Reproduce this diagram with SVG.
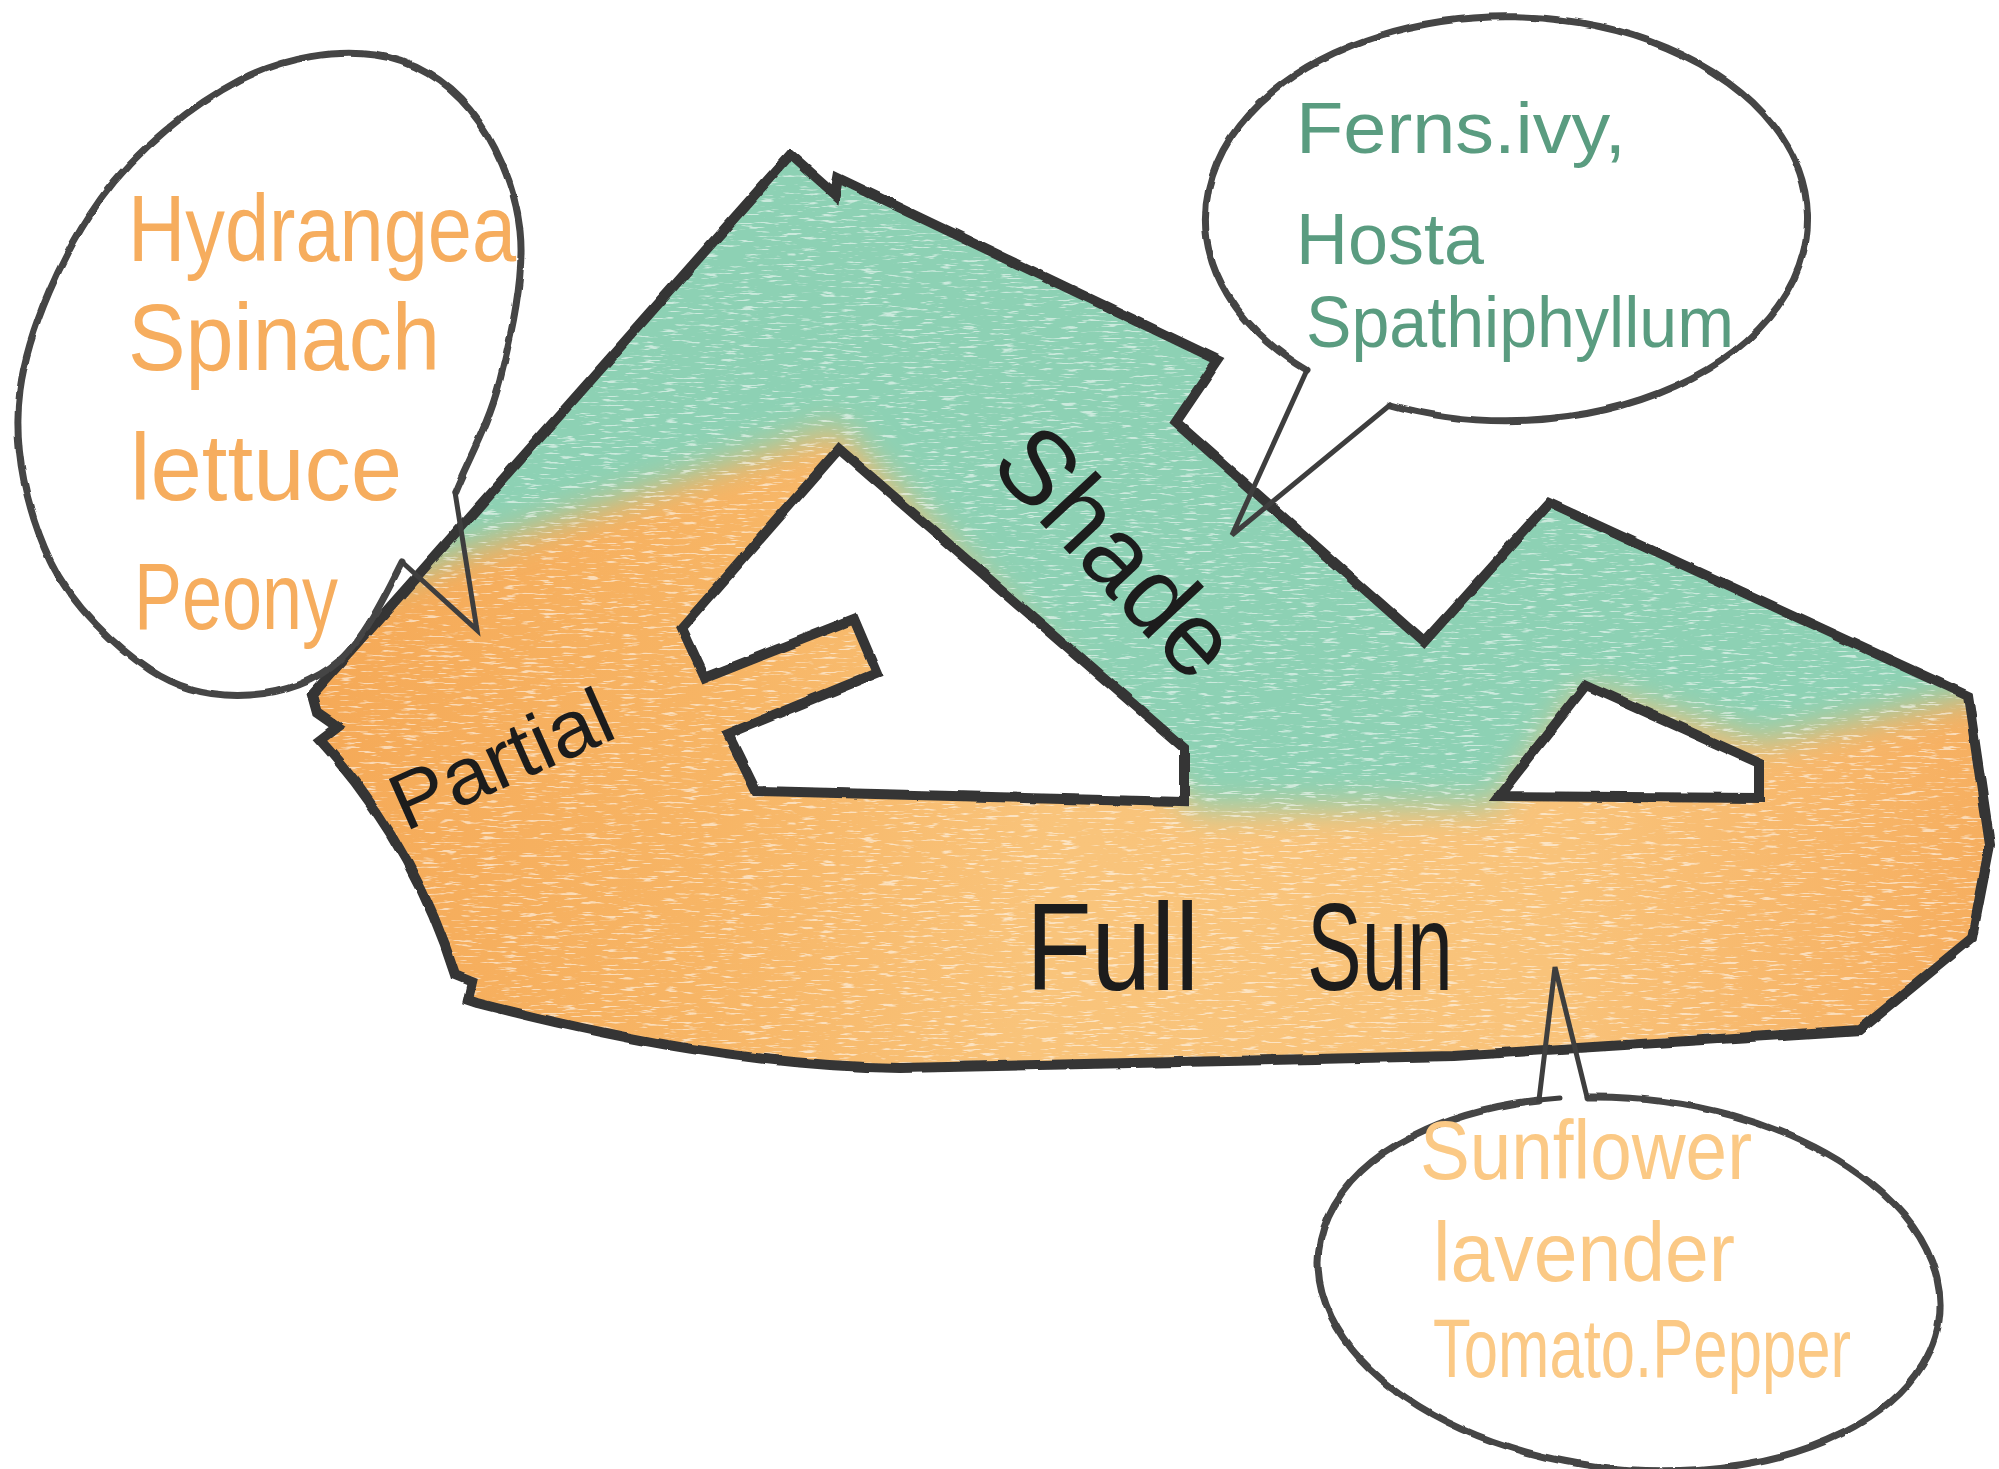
<svg xmlns="http://www.w3.org/2000/svg" width="1999" height="1469" viewBox="0 0 1999 1469">
  <defs>
    <style>
      .outline { fill: none; stroke: #343434; stroke-width: 10; stroke-linejoin: miter; stroke-miterlimit: 6; }
      .bubble { fill: none; stroke: #444444; stroke-width: 7; stroke-linecap: round; }
      .tail { fill: none; stroke: #3e3e3e; stroke-width: 5; stroke-linejoin: miter; stroke-linecap: round; }
      .hand { font-family: "Liberation Sans", "Noto Sans", sans-serif; }
      .t-orange { fill: #F6AD5E; font-size: 95px; }
      .t-green { fill: #5A9C80; font-size: 72px; }
      .t-light { fill: #FBC985; font-size: 84px; }
      .t-black { fill: #1c1c1c; }
    </style>
    <linearGradient id="sunGrad" gradientUnits="userSpaceOnUse" x1="300" y1="700" x2="1990" y2="900">
      <stop offset="0" stop-color="#F5A957"/>
      <stop offset="0.25" stop-color="#F7B565"/>
      <stop offset="0.45" stop-color="#F9C47B"/>
      <stop offset="0.75" stop-color="#F9C37A"/>
      <stop offset="1" stop-color="#F6AE5F"/>
    </linearGradient>
    <clipPath id="shapeClip">
      <path clip-rule="evenodd" d="M790,155 L835,195 L838,178 L1218,360 L1176,422 L1424,642 L1549,503 L1968,696 L1990,845 L1972,938 L1860,1030 L1453,1056 L900,1068 C760,1066 620,1040 477,1003 L468,1000 L472,982 L455,975 Q414,844 320,740 L337,727 L317,713 L312,695 Z M839,449 L682,628 L705,678 L854,619 L877,673 L728,734 L756,791 L1184,802 L1184,748 Z M1586,685 L1759,763 L1759,798 L1499,796 Z"/>
    </clipPath>
    <filter id="soft" x="-20%" y="-20%" width="140%" height="140%">
      <feGaussianBlur stdDeviation="16"/>
    </filter>
    <filter id="speckle" filterUnits="userSpaceOnUse" x="250" y="100" width="1760" height="1000">
      <feTurbulence type="fractalNoise" baseFrequency="0.05 0.45" numOctaves="3" seed="7" result="n"/>
      <feColorMatrix in="n" type="matrix" values="0 0 0 0 1  0 0 0 0 1  0 0 0 0 1  7 0 0 0 -4.1"/>
    </filter>
    <filter id="rough" x="-5%" y="-5%" width="110%" height="110%">
      <feTurbulence type="fractalNoise" baseFrequency="0.04" numOctaves="2" seed="3" result="t"/>
      <feDisplacementMap in="SourceGraphic" in2="t" scale="4" xChannelSelector="R" yChannelSelector="G"/>
    </filter>
  </defs>

  <rect width="1999" height="1469" fill="#ffffff"/>

  <!-- main garden shape -->
  <g id="garden-shape">
    <g clip-path="url(#shapeClip)">
      <rect x="250" y="100" width="1760" height="1000" fill="url(#sunGrad)"/>
      <polygon points="250,640 470,550 838,428 1195,810 1495,806 1585,690 1760,742 2000,690 2000,0 250,0" fill="#8DD1B4" filter="url(#soft)"/>
      <rect x="250" y="100" width="1760" height="1000" filter="url(#speckle)" opacity="0.55"/>
    </g>
    <path class="outline" filter="url(#rough)" d="M790,155 L835,195 L838,178 L1218,360 L1176,422 L1424,642 L1549,503 L1968,696 L1990,845 L1972,938 L1860,1030 L1453,1056 L900,1068 C760,1066 620,1040 477,1003 L468,1000 L472,982 L455,975 Q414,844 320,740 L337,727 L317,713 L312,695 Z M839,449 L682,628 L705,678 L854,619 L877,673 L728,734 L756,791 L1184,802 L1184,748 Z M1586,685 L1759,763 L1759,798 L1499,796 Z"/>
    <text class="hand t-black" transform="translate(1115,553) rotate(47)" x="0" y="34" font-size="105" text-anchor="middle" textLength="300" lengthAdjust="spacingAndGlyphs">Shade</text>
    <text class="hand t-black" transform="translate(405,832) rotate(-24)" x="0" y="0" font-size="80" textLength="235" lengthAdjust="spacingAndGlyphs">Partial</text>
    <text class="hand t-black" y="990" font-size="125"><tspan x="1026" textLength="173" lengthAdjust="spacingAndGlyphs">Full</tspan> <tspan x="1307" textLength="146" lengthAdjust="spacingAndGlyphs">Sun</tspan></text>
  </g>

  <!-- callout bubbles -->
  <g id="bubble-partial">
    <path class="bubble" filter="url(#rough)" d="M455,492 C467,462 489,424 500,380 C511,336 525,275 520,230 C515,185 494,139 470,110 C446,81 413,60 375,55 C337,50 286,56 240,80 C194,104 137,148 100,200 C63,252 28,330 20,390 C12,450 28,513 50,560 C72,607 117,648 150,670 C183,692 218,697 250,695 C282,693 315,682 340,660 C365,638 387,592 402,562"/>
    <text class="hand t-orange" x="128" y="261" textLength="388" lengthAdjust="spacingAndGlyphs">Hydrangea</text>
    <text class="hand t-orange" x="128" y="370" textLength="312" lengthAdjust="spacingAndGlyphs">Spinach</text>
    <text class="hand t-orange" x="130" y="500" textLength="272" lengthAdjust="spacingAndGlyphs">lettuce</text>
    <text class="hand t-orange" x="134" y="629" textLength="204" lengthAdjust="spacingAndGlyphs">Peony</text>
  </g>

  <g id="bubble-shade">
    <path class="bubble" filter="url(#rough)" d="M1307,370 A301,202 0 1 1 1390,405"/>
    <text class="hand t-green" x="1296" y="153" textLength="330" lengthAdjust="spacingAndGlyphs">Ferns.ivy,</text>
    <text class="hand t-green" x="1296" y="264" textLength="188" lengthAdjust="spacingAndGlyphs">Hosta</text>
    <text class="hand t-green" x="1306" y="347" textLength="428" lengthAdjust="spacingAndGlyphs">Spathiphyllum</text>
  </g>

  <g id="bubble-sun">
    <path class="bubble" filter="url(#rough)" d="M1587,1097 A312,185 6 1 1 1539,1100"/>
    <text class="hand t-light" x="1420" y="1179" textLength="332" lengthAdjust="spacingAndGlyphs">Sunflower</text>
    <text class="hand t-light" x="1433" y="1281" textLength="302" lengthAdjust="spacingAndGlyphs">lavender</text>
    <text class="hand t-light" x="1433" y="1377" textLength="418" lengthAdjust="spacingAndGlyphs">Tomato.Pepper</text>
  </g>

  <!-- connectors: bubble tails -->
  <g id="connectors">
    <polyline class="tail" points="455,492 477,630 402,562"/>
    <polyline class="tail" points="1307,370 1232,535 1390,405"/>
    <polyline class="tail" points="1560,1098 1539,1100 1555,967 1587,1097"/>
  </g>
</svg>
